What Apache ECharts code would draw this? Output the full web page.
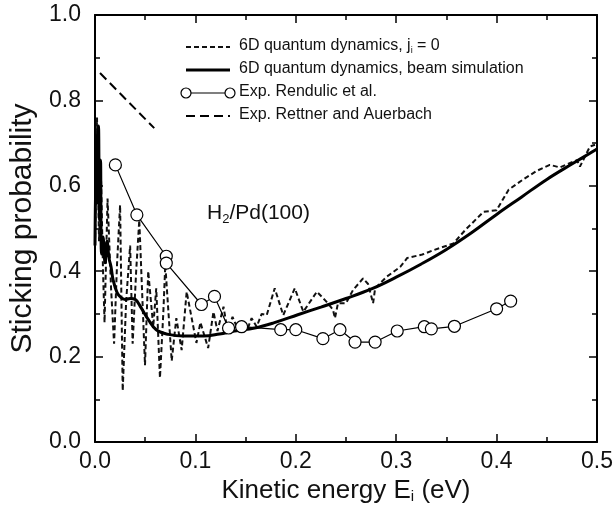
<!DOCTYPE html>
<html>
<head>
<meta charset="utf-8">
<script src="https://cdn.jsdelivr.net/npm/echarts@6/dist/echarts.min.js"></script>
<style>html,body{margin:0;padding:0;background:#fff}#c{width:614px;height:505px}</style>
</head>
<body>
<div id="c"></div>
<script>
// ---- data ----
var xTickLabels = ['0.0', '0.1', '0.2', '0.3', '0.4', '0.5'];
var yTickLabels = ['0.0', '0.2', '0.4', '0.6', '0.8', '1.0'];

var quantumJ0 = [
  [0.000,0.46],[0.002,0.76],[0.004,0.47],[0.006,0.62],[0.008,0.40],[0.0095,0.28],
  [0.0125,0.57],[0.016,0.36],[0.019,0.23],[0.022,0.42],[0.025,0.555],[0.0276,0.12],
  [0.031,0.33],[0.035,0.46],[0.0375,0.23],[0.041,0.40],[0.0441,0.52],[0.0498,0.18],
  [0.053,0.40],[0.058,0.27],[0.061,0.36],[0.0647,0.15],[0.068,0.30],[0.070,0.415],
  [0.0764,0.19],[0.081,0.29],[0.0863,0.215],[0.0913,0.352],[0.101,0.232],[0.105,0.28],
  [0.1127,0.22],[0.118,0.305],[0.122,0.26],[0.128,0.317],[0.132,0.26],[0.137,0.293],
  [0.143,0.26],[0.147,0.285],[0.152,0.265],[0.156,0.29],[0.161,0.27],[0.166,0.30],
  [0.171,0.297],[0.179,0.36],[0.1875,0.297],[0.199,0.36],[0.2075,0.305],[0.221,0.352],
  [0.230,0.33],[0.237,0.31],[0.239,0.29],[0.242,0.325],[0.250,0.325],[0.257,0.356],
  [0.267,0.383],[0.272,0.37],[0.277,0.325],[0.279,0.36],[0.2905,0.387],[0.304,0.41],
  [0.311,0.431],[0.326,0.439],[0.338,0.45],[0.357,0.465],[0.369,0.497],[0.387,0.539],
  [0.400,0.543],[0.412,0.591],[0.4266,0.615],[0.44,0.635],[0.453,0.649],[0.463,0.643],
  [0.48,0.66],[0.483,0.645],[0.493,0.692],[0.498,0.696]
];

var beamSim = [
  [0.000,0.46],[0.0015,0.72],[0.0025,0.56],[0.0035,0.74],[0.0045,0.52],[0.0055,0.66],
  [0.0065,0.44],[0.008,0.48],[0.010,0.42],[0.012,0.47],[0.014,0.43],[0.016,0.41],
  [0.018,0.38],[0.022,0.35],[0.026,0.338],[0.030,0.334],[0.035,0.336],[0.040,0.334],
  [0.046,0.314],[0.053,0.287],[0.061,0.263],[0.073,0.252],[0.0885,0.248],[0.108,0.248],
  [0.124,0.253],[0.139,0.26],[0.159,0.267],[0.178,0.279],[0.202,0.298],[0.225,0.316],
  [0.250,0.336],[0.276,0.359],[0.300,0.386],[0.325,0.417],[0.350,0.451],[0.375,0.490],
  [0.400,0.533],[0.425,0.574],[0.450,0.615],[0.475,0.651],[0.5,0.686]
];

var rendulic = [
  [0.0203,0.649],[0.0417,0.532],[0.071,0.435],[0.071,0.419],[0.106,0.322],[0.119,0.341],
  [0.133,0.267],[0.146,0.270],[0.185,0.263],[0.200,0.263],[0.227,0.242],[0.244,0.263],
  [0.259,0.234],[0.279,0.234],[0.301,0.260],[0.328,0.270],[0.335,0.265],[0.358,0.271],
  [0.400,0.312],[0.414,0.330]
];

var rettner = [[0.005,0.864],[0.059,0.735]];

var legendNames = ['6D quantum dynamics, j', '6D quantum dynamics, beam simulation',
                   'Exp. Rendulic et al.', 'Exp. Rettner and Auerbach'];

// ---- chart ----
var FONT = '"Liberation Sans", Arial, Helvetica, sans-serif';
var chart = echarts.init(document.getElementById('c'), null, {renderer: 'canvas'});

function axisLine(show) { return {show: show, onZero: false, lineStyle: {color: '#000', width: 2}}; }
function tick(len) { return {show: true, inside: true, length: len, lineStyle: {color: '#000', width: 1.5}}; }

function xAx(pos, interval, len, extra) {
  return Object.assign({
    type: 'value', min: 0, max: 0.5, interval: interval, position: pos,
    axisLine: axisLine(len > 6), axisTick: tick(len), splitLine: {show: false},
    axisLabel: {show: false}
  }, extra || {});
}
function yAx(pos, interval, len, extra) {
  return Object.assign({
    type: 'value', min: 0, max: 1, interval: interval, position: pos,
    axisLine: axisLine(len > 6), axisTick: tick(len), splitLine: {show: false},
    axisLabel: {show: false}
  }, extra || {});
}

var option = {
  backgroundColor: '#fff',
  animation: false,
  grid: {left: 95, right: 17, top: 15, bottom: 63, containLabel: false, outerBoundsMode: 'none'},
  xAxis: [
    xAx('bottom', 0.1, 8, {
      axisLabel: {show: true, fontFamily: FONT, fontSize: 23, color: '#111', margin: 8,
        formatter: function (v) { return xTickLabels[Math.round(v * 10)]; }},
      name: '{a|Kinetic energy E}{s|i}{a| (eV)}', nameLocation: 'middle', nameGap: 26,
      nameTextStyle: {rich: {
        a: {fontFamily: FONT, fontSize: 26, color: '#111'},
        s: {fontFamily: FONT, fontSize: 15, color: '#111', verticalAlign: 'bottom', padding: [11, 0, 0, 0]}
      }}
    }),
    xAx('top', 0.1, 8),
    xAx('bottom', 0.05, 5),
    xAx('top', 0.05, 5)
  ],
  yAxis: [
    yAx('left', 0.2, 8, {
      axisLabel: {show: true, fontFamily: FONT, fontSize: 23, color: '#111', margin: 14,
        formatter: function (v) { return yTickLabels[Math.round(v * 5)]; }},
      name: 'Sticking probability', nameLocation: 'middle', nameGap: 55,
      nameTextStyle: {fontFamily: FONT, fontSize: 30, color: '#111'}
    }),
    yAx('right', 0.2, 8),
    yAx('left', 0.1, 5),
    yAx('right', 0.1, 5)
  ],
  series: [
    {name: legendNames[0], type: 'line', data: quantumJ0, symbol: 'none', smooth: false,
     lineStyle: {color: '#111', width: 2, type: [5, 3]}, z: 2},
    {name: legendNames[1], type: 'line', data: beamSim, symbol: 'none', smooth: 0.4,
     lineStyle: {color: '#000', width: 3}, z: 3},
    {name: legendNames[2], type: 'line', data: rendulic, symbol: 'circle', symbolSize: 12,
     lineStyle: {color: '#000', width: 1.2},
     itemStyle: {color: '#fff', borderColor: '#000', borderWidth: 1.2}, z: 5},
    {name: legendNames[3], type: 'line', data: rettner, symbol: 'none',
     lineStyle: {color: '#000', width: 2, type: [9, 5]}, z: 2},
    // invisible carriers so the frame axes are laid out
    {type: 'line', xAxisIndex: 1, yAxisIndex: 1, data: rettner, symbol: 'none', silent: true, lineStyle: {opacity: 0}},
    {type: 'line', xAxisIndex: 2, yAxisIndex: 2, data: rettner, symbol: 'none', silent: true, lineStyle: {opacity: 0}},
    {type: 'line', xAxisIndex: 3, yAxisIndex: 3, data: rettner, symbol: 'none', silent: true, lineStyle: {opacity: 0}}
  ],
  graphic: [
    // legend samples
    {type: 'line', shape: {x1: 186, y1: 47, x2: 230, y2: 47}, style: {stroke: '#111', lineWidth: 2, lineDash: [5, 3]}},
    {type: 'line', shape: {x1: 186, y1: 70, x2: 230, y2: 70}, style: {stroke: '#000', lineWidth: 3}},
    {type: 'line', shape: {x1: 186, y1: 93, x2: 230, y2: 93}, style: {stroke: '#000', lineWidth: 1.2}},
    {type: 'circle', shape: {cx: 186, cy: 93, r: 5}, style: {fill: '#fff', stroke: '#000', lineWidth: 1.2}, z: 10},
    {type: 'circle', shape: {cx: 230, cy: 93, r: 5}, style: {fill: '#fff', stroke: '#000', lineWidth: 1.2}, z: 10},
    {type: 'line', shape: {x1: 186, y1: 116, x2: 230, y2: 116}, style: {stroke: '#000', lineWidth: 2, lineDash: [9, 5]}},
    {type: 'text', left: 239, top: 38, style: {
      text: '{a|' + legendNames[0] + '}{s|i}{a| = 0}', fill: '#111',
      rich: {a: {fontFamily: FONT, fontSize: 16, fill: '#111'},
             s: {fontFamily: FONT, fontSize: 9, fill: '#111', padding: [9, 0, 0, 0]}}}},
    {type: 'text', left: 239, top: 61, style: {text: legendNames[1], fill: '#111', font: '16px ' + FONT}},
    {type: 'text', left: 239, top: 84, style: {text: legendNames[2], fill: '#111', font: '16px ' + FONT}},
    {type: 'text', left: 239, top: 107, style: {text: legendNames[3], fill: '#111', font: '16px ' + FONT}},
    // system label
    {type: 'text', left: 207, top: 203, style: {
      text: '{a|H}{s|2}{a|/Pd(100)}', fill: '#111',
      rich: {a: {fontFamily: FONT, fontSize: 21, fill: '#111'},
             s: {fontFamily: FONT, fontSize: 13, fill: '#111', padding: [12, 0, 0, 0]}}}}
  ]
};
chart.setOption(option);
</script>
</body>
</html>
